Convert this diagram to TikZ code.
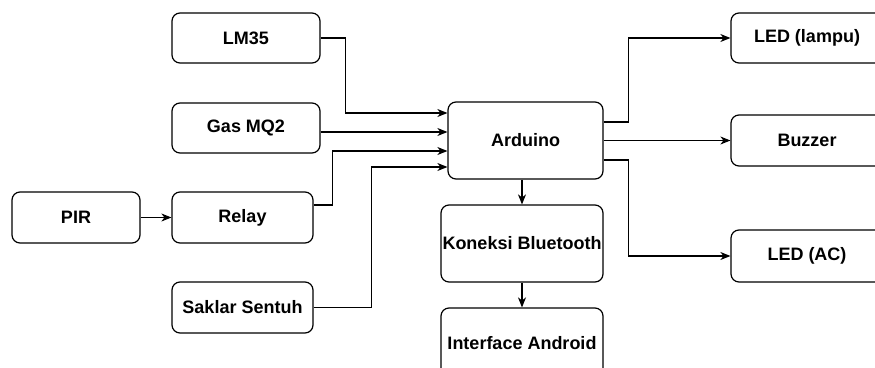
\documentclass[tikz,border=0pt]{standalone}
\usepackage{fontspec}
\setmainfont{Liberation Sans}
\usetikzlibrary{arrows.meta,calc}

\begin{document}
\begin{tikzpicture}[x=1pt,y=-1pt,->,>={Stealth[length=10pt,width=8pt,inset=3pt]},
  line width=1.2pt,box node/.style={rectangle,rounded corners=8pt,draw,fill=white,inner sep=0pt,
  font=\fontsize{18}{21}\selectfont\bfseries,line width=1.2pt}]

  \clip (0,0) rectangle (875,367);

  \node[box node,minimum width=148pt,minimum height=50pt] (lm35) at (246,38) {LM35};
  \node[box node,minimum width=148pt,minimum height=50pt] (gas) at (246,128) {Gas MQ2};
  \node[box node,minimum width=128pt,minimum height=51pt] (pir) at (76,217.5) {PIR};
  \node[box node,minimum width=141pt,minimum height=51pt] (relay) at (242.5,217.5) {Relay};
  \node[box node,minimum width=141pt,minimum height=51pt] (saklar) at (242.5,307.5) {Saklar Sentuh};
  \node[box node,minimum width=155pt,minimum height=77pt] (arduino) at (525.5,140.5) {Arduino};
  \node[box node,minimum width=162pt,minimum height=77pt] (bt) at (522,243.5) {Koneksi Bluetooth};
  \node[box node,minimum width=162pt,minimum height=70pt] (android) at (522,343) {Interface Android};
  \node[box node,minimum width=152pt,minimum height=50pt] (lampu) at (807,38) {LED (lampu)};
  \node[box node,minimum width=152pt,minimum height=51pt] (buzzer) at (807,140.5) {Buzzer};
  \node[box node,minimum width=152pt,minimum height=52pt] (ledac) at (807,256) {LED (AC)};

  % inputs of the arduino
  \coordinate (a1) at ($(arduino.west)+(0,-27.5)$);
  \coordinate (a2) at ($(arduino.west)+(0,-8.5)$);
  \coordinate (a3) at ($(arduino.west)+(0,10.5)$);
  \coordinate (a4) at ($(arduino.west)+(0,26.5)$);

  \draw (lm35.east) -- ++(25,0) |- (a1);
  \draw (gas.east |- a2) -- (a2);
  \draw ($(relay.east)+(0,-12.5)$) -- ++(19,0) |- (a3);
  \draw (saklar.east) -- ++(58,0) |- (a4);
  \draw (pir.east) -- (relay.west);

  \draw (bt.north |- arduino.south) -- (bt.north);
  \draw (bt.south) -- (android.north);

  % outputs
  \draw ($(arduino.east)+(0,-18.5)$) -- ++(25,0) |- (lampu.west);
  \draw (arduino.east) -- (buzzer.west);
  \draw ($(arduino.east)+(0,19.5)$) -- ++(25,0) |- (ledac.west);
\end{tikzpicture}
\end{document}
